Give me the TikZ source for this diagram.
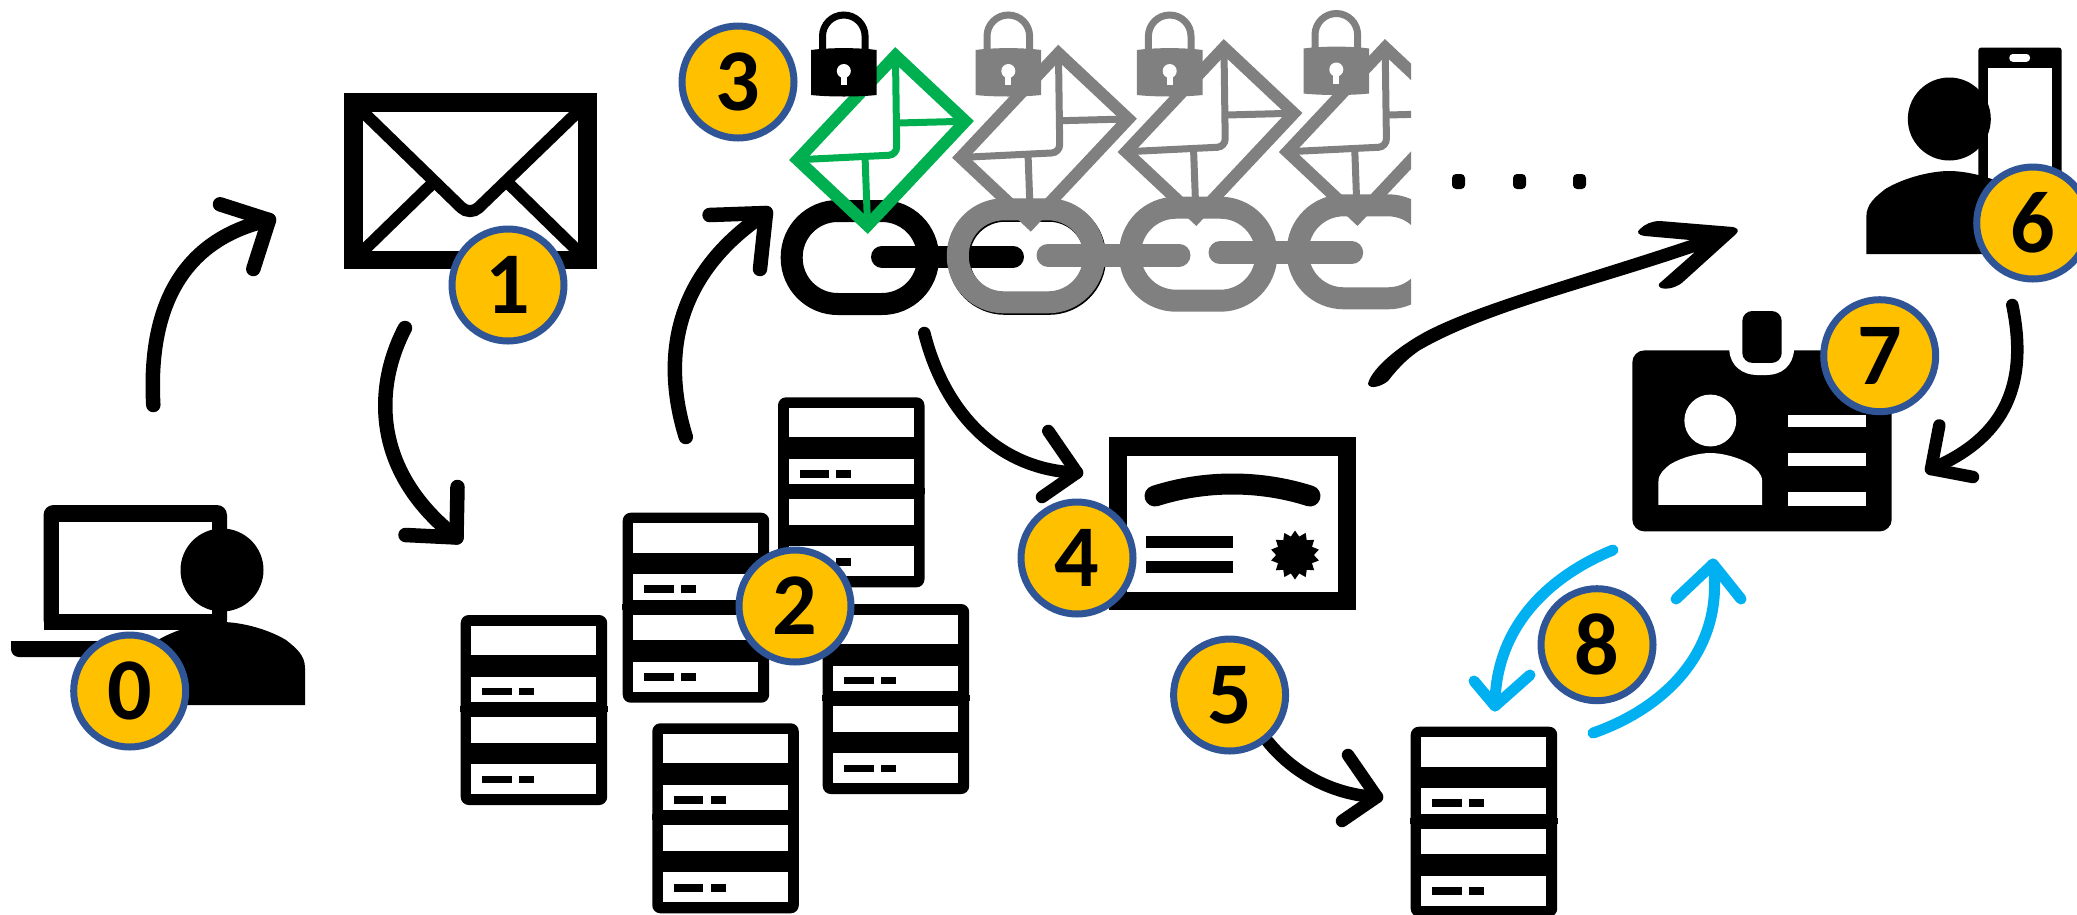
\documentclass[tikz,border=0pt]{standalone}
\usepackage{fontspec}
\setmainfont{Carlito}
\usetikzlibrary{shapes.geometric}
\definecolor{badgeyellow}{HTML}{FFC000}
\definecolor{badgeblue}{HTML}{2F5597}
\definecolor{mailgreen}{HTML}{00B050}
\definecolor{chaingray}{HTML}{808080}
\definecolor{syncblue}{HTML}{00B0F0}
\tikzset{
  badge/.style={circle,draw=badgeblue,fill=badgeyellow,line width=7pt,minimum size=112pt,inner sep=0pt,text=black,font=\fontsize{88}{88}\selectfont\bfseries},
  flow/.style={draw=black,line width=14.5pt,line cap=round,line join=round},
  thinflow/.style={draw=black,line width=12.5pt,line cap=round,line join=round},
  syncflow/.style={draw=syncblue,line width=11pt,line cap=round,line join=round},
}
% server icon, top-left corner at #1,#2
\newcommand{\serverat}[2]{%
  \begin{scope}[shift={(#1,#2)}]
    \fill[black,rounded corners=8pt] (0,0) rectangle (146.5,190);
    \fill[black] (-0.5,91) rectangle (147,97);
    \fill[white] (10.6,10.7) rectangle (135.6,40);
    \fill[white] (10.6,61.7) rectangle (135.6,87);
    \fill[white] (10.6,102) rectangle (135.6,127.7);
    \fill[white] (10.6,149) rectangle (135.6,179);
    \fill[black] (21.7,72.7) rectangle (51,80.3);
    \fill[black] (58.3,72.7) rectangle (73.3,80.3);
    \fill[black] (21.7,160.7) rectangle (51,168.3);
    \fill[black] (58.3,160.7) rectangle (73.3,168.3);
  \end{scope}}
% person, top centre of the shoulders at the origin
\newcommand{\personpath}[1]{%
  \fill[#1] (-83,83) -- (-83,46) .. controls (-83,33) and (-74,26) .. (-64,18)
    .. controls (-44,6) and (-17,0) .. (0,0) .. controls (17,0) and (44,6) .. (64,18)
    .. controls (74,26) and (83,33) .. (83,46) -- (83,83) -- cycle;
  \fill[#1] (0,-52) circle (41.5pt);}
% padlock, horizontal centre at #1, vertical shift #2
\newcommand{\lockat}[3]{%
  \begin{scope}[shift={(#1,#2)}]
    \draw[#3,line width=7pt] (-21.3,50) -- (-21.3,36.3) .. controls (-21.3,24.5) and (-11.8,15) .. (0,15)
      .. controls (11.8,15) and (21.3,24.5) .. (21.3,36.3) -- (21.3,50);
    \fill[#3] (-32.8,50) .. controls (-15,47.5) and (15,47.5) .. (32.8,50) -- (32.8,95)
      .. controls (15,97) and (-15,97) .. (-32.8,95) -- cycle;
    \fill[white] (0,71) circle (7pt);
    \fill[white] (-3,71) rectangle (3,85);
  \end{scope}}
% rotated mail, centre at #1,#2
\newcommand{\mailat}[3]{%
  \begin{scope}[shift={(#1,#2)},rotate=46.8,draw=#3]
    \draw[line width=12pt,miter limit=10] (-71.5,-48) rectangle (71.5,48);
    \draw[line width=7pt,rounded corners=8pt] (-71.5,-48) -- (0,21) -- (71.5,-48);
    \draw[line width=7pt] (-71.5,48) -- (-24,0);
    \draw[line width=7pt] (71.5,48) -- (24,0);
  \end{scope}}
% chain ring, outer top-left at #1,#2
\newcommand{\ringat}[3]{%
  \draw[#3,line width=22pt,rounded corners=46pt] (#1+11,#2+11) rectangle (#1+147.3,#2+104);}
\begin{document}
\begin{tikzpicture}[x=1pt,y=-1pt]
\useasboundingbox (0,0) rectangle (2077,914);
\clip (0,0) rectangle (2077,914);

% --- user 0 with laptop
\fill[black,rounded corners=10pt] (43.5,505) -- (227,505) -- (227,630) -- (43.5,630) -- cycle;
\fill[black] (43.5,615) rectangle (60,630);
\fill[black] (215,615) rectangle (227,630);
\fill[white] (59.3,521.7) rectangle (211.5,614);
\fill[black,rounded corners=8pt] (11,630) -- (11,657) -- (175,657) -- (175,630) -- cycle;
\fill[white] (5,630) rectangle (180,641);
\begin{scope}[shift={(222,622)}]\personpath{black}\end{scope}
\fill[black] (43.5,614) rectangle (227,630);

% --- big envelope
\fill[black] (344,93.3) rectangle (596.7,269.3);
\fill[white] (363,112.3) rectangle (577.7,250.7);
\draw[black,line width=12pt,rounded corners=12pt,line cap=butt] (363,112) -- (470,216) -- (577.7,112);
\draw[black,line width=12pt] (363,251) -- (437,179);
\draw[black,line width=12pt] (577.7,251) -- (504,179);
\fill[black] (344,250.7) rectangle (596.7,269.3);
\fill[black] (344,93.3) rectangle (596.7,112.3);

% --- servers
\serverat{460.7}{615}
\serverat{622.7}{512.7}
\serverat{652.3}{723.3}
\serverat{822.7}{604}
\serverat{778}{397.3}
\serverat{1410.7}{726.7}

% --- chain
\ringat{780.7}{200}{black}
\draw[black,line width=22pt,line cap=round] (882,256.7) -- (1013,256.7);
\ringat{947.8}{199.8}{black}
\ringat{946.8}{198.3}{chaingray}
\draw[chaingray,line width=23pt,line cap=round] (1048,255) -- (1179,255);
\ringat{1119}{196.7}{chaingray}
\draw[chaingray,line width=23pt,line cap=round] (1220,252.7) -- (1351.7,252.7);
\begin{scope}
  \clip (1100,0) rectangle (1411,330);
  \ringat{1286.7}{194.3}{chaingray}
  \mailat{1371.2}{132.5}{chaingray}
\end{scope}

% --- mails and locks
\mailat{881.5}{140.5}{mailgreen}
\mailat{1044.5}{138.2}{chaingray}
\mailat{1210}{132.5}{chaingray}
\lockat{843.8}{0}{black}
\lockat{1008.3}{0}{chaingray}
\lockat{1169.7}{0}{chaingray}
\lockat{1336.3}{-1.5}{chaingray}

% --- ellipsis dots
\fill[black,rounded corners=4pt] (1452,174) rectangle (1465,189);
\fill[black,rounded corners=4pt] (1513,174) rectangle (1526,189);
\fill[black,rounded corners=4pt] (1573,174) rectangle (1586,189);

% --- certificate
\fill[black] (1109,437.3) rectangle (1356,610.3);
\fill[white] (1127.3,455.7) rectangle (1337.7,592);
\draw[black,line width=21pt,line cap=round] (1155,496) .. controls (1205,480) and (1260,480) .. (1310,496);
\fill[black] (1146,536) rectangle (1232.7,548.3);
\fill[black] (1146,561) rectangle (1232.7,573.3);
\node[star,star points=14,star point ratio=1.3,fill=black,inner sep=0pt,minimum size=49pt] (seal) at (1295,555) {};

% --- user 6 with phone
\fill[black,rounded corners=3pt] (1978.3,47.5) rectangle (2061.7,200);
\fill[white] (1988.3,68.2) rectangle (2051.7,200);
\fill[white,rounded corners=3.5pt] (2009.3,54) rectangle (2030,61.8);
\begin{scope}[shift={(1949.3,171)}]\personpath{black}\end{scope}

% --- id card
\fill[black,rounded corners=12pt] (1632.3,350.4) rectangle (1891.7,531.4);
\fill[white] (1729.3,345) -- (1729.3,350) .. controls (1730,366) and (1743,375) .. (1757,375) -- (1767,375)
  .. controls (1781,375) and (1793,366) .. (1794,350) -- (1794,345) -- cycle;
\fill[black,rounded corners=10pt] (1742.3,311) rectangle (1781.7,362.9);
\begin{scope}[shift={(1710.3,453)},scale=0.625]\personpath{white}\end{scope}
\fill[white] (1787.7,414.6) rectangle (1865.7,427);
\fill[white] (1787.7,453) rectangle (1865.7,466.4);
\fill[white] (1787.7,492) rectangle (1865.7,505.7);

% --- arrows
\coordinate (a0s) at (153.3,405);
\coordinate (a0t) at (269,220);
\coordinate (a0u) at (220,204.3);
\coordinate (a0v) at (253.3,269);
\draw[flow] (a0s) .. controls (148,310) and (180,240) .. (a0t);
\draw[flow] (a0u) -- (a0t) -- (a0v);

\coordinate (a1s) at (405,328);
\coordinate (a1t) at (456.5,537.5);
\coordinate (a1u) at (457.5,487);
\coordinate (a1v) at (405.5,535);
\draw[flow] (a1s) .. controls (375,385) and (370,470) .. (a1t);
\draw[flow] (a1u) -- (a1t) -- (a1v);

\coordinate (a2s) at (685.8,437);
\coordinate (a2t) at (766,213);
\coordinate (a2u) at (709.6,215);
\coordinate (a2v) at (760,269);
\draw[flow] (a2s) .. controls (665,370) and (665,280) .. (a2t);
\draw[flow] (a2u) -- (a2t) -- (a2v);

\coordinate (a3s) at (924.3,333);
\coordinate (a3t) at (1077,472.7);
\coordinate (a3u) at (1048.3,431);
\coordinate (a3v) at (1042,497);
\draw[thinflow] (a3s) .. controls (945,415) and (1000,470) .. (a3t);
\draw[thinflow] (a3u) -- (a3t) -- (a3v);

\coordinate (a5s) at (1267.9,741.7);
\coordinate (a5t) at (1377,797);
\coordinate (a5u) at (1348,755);
\coordinate (a5v) at (1342,821);
\draw[thinflow] (a5s) .. controls (1295,775) and (1335,795) .. (a5t);
\draw[thinflow] (a5u) -- (a5t) -- (a5v);

\coordinate (a6s) at (2012.3,305);
\coordinate (a6t) at (1931,469);
\coordinate (a6u) at (1939.3,425.4);
\coordinate (a6v) at (1973,477);
\draw[thinflow] (a6s) .. controls (2030,390) and (2000,440) .. (a6t);
\draw[thinflow] (a6u) -- (a6t) -- (a6v);

% swoosh towards user 6
\fill[black] (1368,384) .. controls (1370,372) and (1392,350) .. (1425,332) .. controls (1480,303) and (1580,277) .. (1690,240)
  -- (1645,236) .. controls (1638,235) and (1636,232) .. (1640,229) .. controls (1645,224) and (1652,221) .. (1660,221)
  -- (1733,227) .. controls (1738,228) and (1739,231) .. (1736,234) -- (1684,281)
  .. controls (1678,287) and (1668,290) .. (1661,288) .. controls (1658,286) and (1658,284) .. (1661,282)
  -- (1695,252) .. controls (1590,288) and (1490,310) .. (1420,350) .. controls (1405,360) and (1395,372) .. (1388,381)
  .. controls (1382,386) and (1370,390) .. (1368,384) -- cycle;

% blue sync arrows
\coordinate (b1s) at (1613,550);
\coordinate (b1t) at (1495,706);
\coordinate (b1u) at (1474,681);
\coordinate (b1v) at (1530,675);
\draw[syncflow] (b1s) .. controls (1545,578) and (1495,630) .. (b1t);
\draw[syncflow] (b1u) -- (b1t) -- (b1v);
\coordinate (b2s) at (1593,733);
\coordinate (b2t) at (1713,564);
\coordinate (b2u) at (1676,599);
\coordinate (b2v) at (1741,599);
\draw[syncflow] (b2s) .. controls (1665,708) and (1725,650) .. (b2t);
\draw[syncflow] (b2u) -- (b2t) -- (b2v);

% --- badges
\node[badge] (n0) at (129.7,691) {0};
\node[badge] (n1) at (508,285) {1};
\node[badge] (n2) at (795,606) {2};
\node[badge] (n3) at (738,82) {3};
\node[badge] (n4) at (1077,558) {4};
\node[badge] (n5) at (1229.6,695) {5};
\node[badge] (n6) at (2032.7,223) {6};
\node[badge] (n7) at (1879.7,355.7) {7};
\node[badge] (n8) at (1597,644.7) {8};
\end{tikzpicture}
\end{document}
